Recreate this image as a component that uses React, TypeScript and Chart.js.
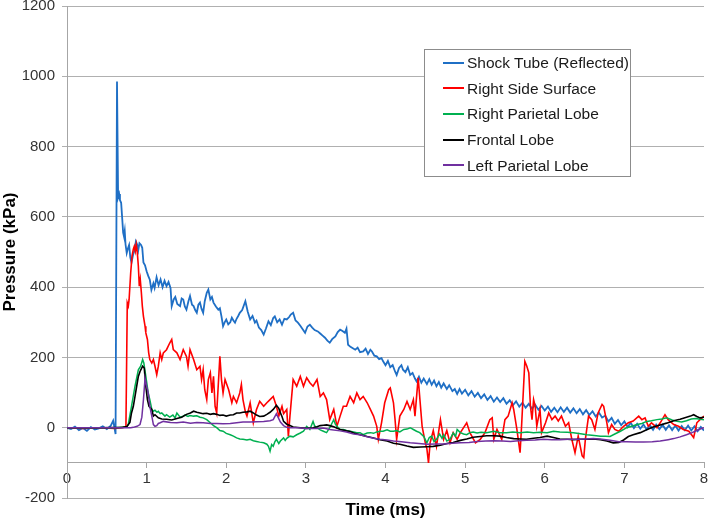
import React, { useEffect, useRef } from "react";
import { Chart, registerables } from "chart.js";

Chart.register(...registerables);

const FONT = "'Liberation Sans', Arial, Helvetica, sans-serif";

const seriesNames = [
  "Shock Tube (Reflected)",
  "Right Side Surface",
  "Right Parietal Lobe",
  "Frontal Lobe",
  "Left Parietal Lobe",
];
const seriesColors = ["#1f6fc5", "#ff0000", "#00b050", "#000000", "#7030a0"];

const xTicks = [0, 1, 2, 3, 4, 5, 6, 7, 8];
const yTicks = [-200, 0, 200, 400, 600, 800, 1000, 1200];

// Shock Tube (Reflected)
const shockT = [0, 0.05, 0.1, 0.15, 0.2, 0.25, 0.3, 0.35, 0.4, 0.45, 0.5, 0.55, 0.58, 0.61, 0.628, 0.642, 0.655, 0.665, 0.68, 0.695, 0.705, 0.715, 0.725, 0.735, 0.75, 0.765, 0.78, 0.795, 0.81, 0.83, 0.85, 0.865, 0.88, 0.895, 0.91, 0.93, 0.945, 0.96, 0.98, 1.0, 1.02, 1.04, 1.06, 1.085, 1.1, 1.125, 1.15, 1.175, 1.2, 1.225, 1.25, 1.275, 1.3, 1.315, 1.34, 1.36, 1.385, 1.42, 1.44, 1.46, 1.48, 1.5, 1.525, 1.545, 1.57, 1.59, 1.61, 1.63, 1.65, 1.67, 1.69, 1.71, 1.73, 1.755, 1.775, 1.8, 1.82, 1.84, 1.87, 1.9, 1.92, 1.94, 1.96, 1.98, 2.0, 2.025, 2.05, 2.07, 2.09, 2.11, 2.13, 2.15, 2.17, 2.2, 2.24, 2.27, 2.3, 2.33, 2.36, 2.38, 2.41, 2.44, 2.47, 2.5, 2.53, 2.56, 2.59, 2.61, 2.64, 2.67, 2.7, 2.73, 2.76, 2.79, 2.81, 2.84, 2.87, 2.9, 2.93, 2.96, 2.99, 3.02, 3.05, 3.08, 3.11, 3.15, 3.18, 3.21, 3.24, 3.27, 3.3, 3.33, 3.37, 3.4, 3.43, 3.46, 3.49, 3.51, 3.53, 3.56, 3.59, 3.62, 3.65, 3.68, 3.72, 3.75, 3.78, 3.81, 3.83, 3.86, 3.89, 3.92, 3.95, 3.97, 4.0, 4.03, 4.06, 4.09, 4.12, 4.14, 4.17, 4.2, 4.22, 4.25, 4.28, 4.31, 4.34, 4.37, 4.39, 4.42, 4.45, 4.48, 4.52, 4.55, 4.58, 4.61, 4.64, 4.67, 4.7, 4.73, 4.77, 4.8, 4.84, 4.87, 4.9, 4.93, 4.96, 5.0, 5.04, 5.08, 5.12, 5.16, 5.2, 5.24, 5.28, 5.32, 5.36, 5.4, 5.44, 5.48, 5.52, 5.56, 5.6, 5.64, 5.68, 5.72, 5.76, 5.8, 5.84, 5.88, 5.92, 5.96, 6.0, 6.04, 6.08, 6.12, 6.16, 6.2, 6.24, 6.28, 6.32, 6.36, 6.4, 6.44, 6.48, 6.52, 6.56, 6.6, 6.64, 6.68, 6.72, 6.76, 6.8, 6.84, 6.88, 6.92, 6.96, 7.0, 7.04, 7.08, 7.12, 7.16, 7.2, 7.24, 7.28, 7.32, 7.36, 7.4, 7.44, 7.48, 7.52, 7.56, 7.6, 7.64, 7.68, 7.72, 7.76, 7.8, 7.84, 7.88, 7.92, 7.96, 8.0];
const shockV = [0, -4, 3, -7, -1, -9, 2, -5, -2, 4, -4, 6, 20, -18, 985, 655, 665, 648, 640, 590, 555, 545, 560, 522, 497, 510, 520, 485, 470, 492, 506, 530, 522, 505, 525, 520, 512, 470, 462, 445, 432, 421, 392, 411, 398, 428, 405, 422, 400, 418, 403, 415, 398, 346, 365, 372, 352, 346, 368, 365, 345, 336, 360, 375, 350, 346, 335, 327, 350, 356, 338, 327, 360, 384, 393, 365, 372, 356, 345, 336, 340, 317, 289, 300, 308, 294, 300, 313, 305, 299, 310, 318, 327, 335, 360, 330, 308, 318, 299, 305, 285, 278, 265, 283, 303, 292, 312, 317, 300, 308, 293, 310, 308, 315, 322, 327, 305, 299, 290, 280, 270, 288, 293, 285, 278, 274, 268, 262, 256, 248, 242, 252, 260, 272, 279, 275, 270, 282, 236, 230, 226, 222, 228, 215, 217, 225, 210, 222, 217, 205, 203, 195, 198,
  189, 178, 190, 172, 178, 160, 150, 170, 178, 165, 158, 172, 150, 156, 140, 132, 145, 128, 140, 124, 138, 122, 134, 118, 130, 114, 126, 110, 121, 104, 110, 96, 110, 97, 108,
  92, 104, 88, 99, 84, 95, 79, 90, 74, 86, 73, 84, 68, 78, 64, 75, 60, 71, 57, 68, 54, 65, 51, 62, 49, 60, 45, 57, 44, 58, 45, 57, 43, 55, 41, 53, 38, 50, 36, 47, 32, 43, 29, 34, 18, 28, 11, 22, 7, 18, 2, 14, -1, 11, -3, 9, -5, 7, -6, 9, -4, 8, -6, 7, -7, 6, -8, 5, -7, 6, -8, 4, -10, 2, -8];

// Right Side Surface
const surfaceT = [0, 0.2, 0.4, 0.6, 0.74, 0.757, 0.77, 0.78, 0.8, 0.817, 0.833, 0.845, 0.858, 0.87, 0.883, 0.896, 0.908, 0.92, 0.934, 0.946, 0.96, 0.98, 0.99, 1.01, 1.026, 1.04, 1.065, 1.085, 1.105, 1.127, 1.147, 1.17, 1.19, 1.21, 1.25, 1.29, 1.315, 1.335, 1.38, 1.42, 1.46, 1.5, 1.52, 1.545, 1.59, 1.63, 1.67, 1.69, 1.71, 1.73, 1.755, 1.775, 1.8, 1.82, 1.84, 1.86, 1.88, 1.92, 1.94, 1.96, 1.985, 2.03, 2.07, 2.09, 2.13, 2.17, 2.19, 2.21, 2.24, 2.26, 2.3, 2.34, 2.38, 2.42, 2.47, 2.51, 2.55, 2.59, 2.63, 2.66, 2.7, 2.72, 2.76, 2.78, 2.8, 2.84, 2.885, 2.93, 2.97, 3.01, 3.05, 3.09, 3.14, 3.18, 3.22, 3.26, 3.3, 3.35, 3.39, 3.43, 3.47, 3.51, 3.555, 3.6, 3.64, 3.68, 3.72, 3.77, 3.81, 3.85, 3.89, 3.91, 3.95, 3.99, 4.04, 4.06, 4.1, 4.12, 4.14, 4.18, 4.23, 4.27, 4.31, 4.35, 4.37, 4.41, 4.46, 4.5, 4.52, 4.54, 4.56, 4.6, 4.64, 4.69, 4.73, 4.77, 4.81, 4.85, 4.9, 4.94, 5.02, 5.06, 5.13, 5.19, 5.25, 5.31, 5.34, 5.36, 5.4, 5.46, 5.5, 5.54, 5.59, 5.61, 5.65, 5.69, 5.71, 5.75, 5.775, 5.8, 5.82, 5.84, 5.86, 5.88, 5.9, 5.94, 5.96, 6.01, 6.05, 6.09, 6.13, 6.17, 6.21, 6.26, 6.3, 6.34, 6.38, 6.42, 6.47, 6.49, 6.51, 6.55, 6.59, 6.63, 6.67, 6.72, 6.74, 6.78, 6.8, 6.84, 6.88, 6.93, 6.99, 7.05, 7.11, 7.18, 7.22, 7.26, 7.3, 7.34, 7.41, 7.45, 7.51, 7.55, 7.62, 7.68, 7.74, 7.81, 7.87, 7.91, 7.95, 8.0];
const surfaceV = [0, -2, 0, -2, 2, 355, 346, 365, 441, 489, 508, 516, 502, 521, 498, 460, 403, 422, 384, 346, 317, 289, 270, 251, 213, 194, 184, 194, 175, 151, 175, 213, 194, 213, 222, 241, 251, 222, 213, 194, 222, 203, 175, 222, 194, 165, 175, 137, 165, 108, 80, 137, 156, 99, 146, 61, 42, 203, 137, 99, 137, 108, 71, 89, 71, 99, 123, 80, 45, 33, 71, 14, 52, 75, 61, 71, 80, 89, 61, 33, 61, 40, 52, -25, 33, 137, 118, 146, 118, 142, 128, 118, 137, 89, 99, 80, 23, 52, 4, 33, 61, 61, 89, 71, 99, 80, 89, 71, 52, 33, 4, -33, 14, 71, 108, 113, 71, 23, -33, 33, 52, 75, 52, 80, 33, 142, 4, -43, -60, -100, -43, -8, -53, 23, -33, -8, -43, -14, -33, -14, 14, -14, -43, -33, -14, 23, 28, -33, -5, -33, 23, 33, 71, 52, -5, -71, 9, 189, 175, 156, 61, 23, 80, 61, 4, 52, -14, 14, 42, 23, 33, 19, 33, 4, 14, -33, -71, -24, -80, -85, -33, 33, 23, -5, 42, 66, 61, 14, -14, 9, -5, -10, 4, 14, 19, 33, 23, 28, 4, 14, 0, 14, 37, 23, 9, 4, -5, -10, -28, 14, 23, 33];

// Right Parietal Lobe
const rightLobeT = [0, 0.3, 0.6, 0.75, 0.77, 0.81, 0.854, 0.896, 0.925, 0.95, 0.965, 0.99, 1.02, 1.04, 1.065, 1.085, 1.105, 1.13, 1.147, 1.17, 1.19, 1.23, 1.25, 1.29, 1.33, 1.357, 1.38, 1.42, 1.46, 1.48, 1.52, 1.545, 1.59, 1.63, 1.67, 1.71, 1.755, 1.8, 1.84, 1.88, 1.92, 1.96, 2.0, 2.05, 2.09, 2.13, 2.17, 2.21, 2.26, 2.3, 2.34, 2.38, 2.42, 2.47, 2.51, 2.53, 2.55, 2.57, 2.59, 2.61, 2.63, 2.66, 2.68, 2.72, 2.74, 2.76, 2.8, 2.84, 2.885, 2.93, 2.97, 3.01, 3.05, 3.09, 3.11, 3.14, 3.18, 3.22, 3.26, 3.3, 3.35, 3.37, 3.39, 3.43, 3.47, 3.51, 3.555, 3.6, 3.64, 3.68, 3.72, 3.77, 3.81, 3.85, 3.89, 3.93, 3.97, 4.02, 4.06, 4.1, 4.14, 4.18, 4.23, 4.27, 4.31, 4.35, 4.39, 4.43, 4.48, 4.52, 4.55, 4.58, 4.61, 4.64, 4.68, 4.71, 4.73, 4.77, 4.81, 4.85, 4.88, 4.9, 4.94, 4.98, 5.02, 5.06, 5.1, 5.15, 5.2, 5.27, 5.36, 5.44, 5.52, 5.6, 5.69, 5.78, 5.86, 5.94, 6.03, 6.11, 6.19, 6.28, 6.36, 6.45, 6.53, 6.62, 6.7, 6.76, 6.82, 6.88, 6.95, 7.03, 7.09, 7.16, 7.22, 7.28, 7.34, 7.41, 7.47, 7.53, 7.6, 7.66, 7.72, 7.78, 7.84, 7.9, 7.95, 8.0];
const rightLobeV = [0, 0, 0, 2, 10, 61, 118, 165, 175, 194, 184, 146, 99, 80, 52, 47, 50, 44, 47, 40, 42, 33, 37, 30, 36, 28, 42, 30, 33, 36, 32, 35, 33, 34, 30, 28, 23, 14, 6, 0, -8, -10, -16, -20, -24, -29, -32, -33, -35, -33, -37, -39, -41, -43, -47, -53, -67, -48, -53, -40, -33, -45, -38, -29, -36, -30, -24, -26, -20, -15, -10, 4, -5, 18, 5, 0, -6, -10, -14, 0, 23, 10, 4, -5, -5, -8, -10, -12, -14, -14, -20, -15, -14, -16, -12, -10, -10, -6, -10, -10, -8, -12, -5, -4, 0, -5, -10, -14, -25, -43, -28, -24, -40, -33, -18, -30, -20, -38, -33, -15, -25, -5, -14, -18, -20, -14, -12, -15, -13, -14, -10, -14, -14, -12, -14, -12, -14, -13, -14, -10, -12, -13, -14, -17, -20, -22, -24, -24, -25, -18, -10, 0, 4, 9, 12, 18, 20, 23, 25, 28, 22, 18, 16, 20, 25, 26, 24, 23];

// Frontal Lobe
const frontalT = [0, 0.4, 0.7, 0.75, 0.79, 0.81, 0.833, 0.854, 0.875, 0.896, 0.917, 0.95, 0.97, 0.99, 1.01, 1.03, 1.065, 1.085, 1.105, 1.147, 1.19, 1.25, 1.315, 1.38, 1.44, 1.5, 1.55, 1.59, 1.63, 1.67, 1.71, 1.755, 1.8, 1.84, 1.88, 1.92, 1.96, 2.0, 2.05, 2.09, 2.13, 2.17, 2.21, 2.26, 2.3, 2.34, 2.38, 2.42, 2.47, 2.51, 2.55, 2.59, 2.63, 2.66, 2.68, 2.7, 2.72, 2.76, 2.8, 2.84, 2.93, 3.01, 3.09, 3.14, 3.18, 3.22, 3.26, 3.3, 3.35, 3.43, 3.51, 3.555, 3.6, 3.68, 3.77, 3.85, 3.93, 4.02, 4.1, 4.18, 4.27, 4.35, 4.44, 4.52, 4.6, 4.69, 4.77, 4.85, 4.94, 5.02, 5.1, 5.19, 5.27, 5.36, 5.44, 5.52, 5.61, 5.69, 5.77, 5.86, 5.94, 6.03, 6.11, 6.19, 6.28, 6.36, 6.45, 6.53, 6.61, 6.7, 6.78, 6.86, 6.93, 6.99, 7.05, 7.11, 7.2, 7.28, 7.36, 7.45, 7.53, 7.62, 7.7, 7.78, 7.83, 7.87, 7.91, 7.95, 8.0];
const frontalV = [0, 0, 1, 3, 15, 42, 61, 89, 118, 146, 160, 175, 170, 118, 80, 61, 52, 33, 37, 28, 25, 24, 22, 26, 30, 38, 42, 47, 44, 42, 40, 41, 38, 40, 38, 35, 36, 33, 36, 37, 42, 42, 44, 45, 47, 42, 36, 32, 33, 38, 44, 52, 64, 55, 42, 32, 18, 10, 6, 2, 0, -2, 0, 3, 6, 7, 8, 6, 3, -5, -9, -11, -15, -20, -25, -29, -34, -38, -44, -47, -52, -56, -55, -54, -53, -50, -45, -42, -36, -32, -27, -25, -23, -23, -24, -28, -31, -32, -33, -30, -28, -24, -28, -32, -33, -34, -33, -33, -32, -34, -38, -43, -42, -35, -25, -20, -14, -6, 2, 8, 13, 20, 24, 30, 33, 37, 32, 28, 30];

// Left Parietal Lobe
const leftLobeT = [0, 0.4, 0.8, 0.833, 0.88, 0.917, 0.94, 0.96, 0.98, 1.0, 1.02, 1.04, 1.065, 1.085, 1.105, 1.127, 1.147, 1.17, 1.21, 1.3, 1.38, 1.46, 1.55, 1.63, 1.71, 1.8, 1.88, 1.96, 2.05, 2.13, 2.21, 2.3, 2.38, 2.47, 2.55, 2.59, 2.63, 2.65, 2.68, 2.72, 2.76, 2.8, 2.9, 3.01, 3.14, 3.22, 3.3, 3.43, 3.51, 3.6, 3.68, 3.77, 3.85, 3.93, 4.02, 4.1, 4.2, 4.31, 4.42, 4.52, 4.62, 4.73, 4.84, 4.94, 5.05, 5.15, 5.26, 5.36, 5.47, 5.57, 5.67, 5.77, 5.88, 5.98, 6.09, 6.19, 6.3, 6.4, 6.51, 6.61, 6.72, 6.82, 6.93, 7.03, 7.14, 7.24, 7.35, 7.45, 7.55, 7.62, 7.7, 7.78, 7.85, 7.91, 7.96, 8.0];
const leftLobeV = [0, 0, 0, 1, 4, 9, 30, 80, 140, 118, 99, 61, 33, 9, 4, 6, 12, 14, 18, 15, 14, 16, 13, 15, 14, 12, 12, 11, 12, 14, 16, 16, 17, 18, 20, 23, 40, 30, 16, 6, 1, 0, 0, -2, -2, -1, -5, -9, -12, -18, -20, -26, -30, -33, -35, -38, -40, -43, -45, -47, -46, -46, -44, -43, -42, -39, -38, -37, -38, -39, -37, -36, -35, -33, -34, -34, -33, -33, -32, -31, -33, -36, -40, -40, -41, -41, -40, -38, -34, -31, -26, -20, -14, -8, -3, 0];

const seriesT = [shockT, surfaceT, rightLobeT, frontalT, leftLobeT];
const seriesV = [shockV, surfaceV, rightLobeV, frontalV, leftLobeV];
const seriesWidths = [1.8, 1.6, 1.5, 1.6, 1.5];

const xTitle = "Time (ms)";
const yTitle = "Pressure (kPa)";

const xTitlePlugin = {
  id: "xTitle",
  afterDraw(chart: any) {
    const { ctx, chartArea } = chart;
    ctx.save();
    ctx.font = `bold 17px ${FONT}`;
    ctx.fillStyle = "#000";
    ctx.textAlign = "center";
    ctx.textBaseline = "middle";
    ctx.fillText(xTitle, (chartArea.left + chartArea.right) / 2, 510);
    ctx.restore();
  },
};

export default function App() {
  const ref = useRef<HTMLCanvasElement | null>(null);

  useEffect(() => {
    if (!ref.current) return;
    const datasets = seriesNames.map((name, i) => ({
      label: name,
      data: seriesT[i].map((t, j) => ({ x: t, y: seriesV[i][j] })),
      borderColor: seriesColors[i],
      backgroundColor: seriesColors[i],
      borderWidth: seriesWidths[i],
      pointRadius: 0,
      tension: 0,
      fill: false,
      order: seriesNames.length - i,
    }));
    const chart = new Chart(ref.current, {
      type: "line",
      data: { datasets },
      options: {
        animation: false,
        responsive: false,
        events: [],
        layout: { padding: { top: 6, right: 5, bottom: 22, left: 0 } },
        plugins: {
          legend: { display: false },
          tooltip: { enabled: false },
        },
        scales: {
          x: {
            type: "linear",
            min: 0,
            max: 8,
            position: { y: -100 } as any,
            afterBuildTicks: (s: any) => {
              s.ticks = xTicks.map((v) => ({ value: v }));
            },
            afterFit: (s: any) => {
              s.height = 0;
              s.paddingLeft = 0;
              s.paddingRight = 0;
            },
            ticks: {
              color: "#333",
              font: { family: FONT, size: 15 },
              padding: 2,
              maxRotation: 0,
              callback: (v: any) => String(v),
            },
            grid: {
              display: true,
              drawOnChartArea: false,
              drawTicks: true,
              tickLength: 5,
              color: "#a6a6a6",
            },
            border: { display: true, color: "#a6a6a6", width: 1 },
          },
          y: {
            type: "linear",
            min: -200,
            max: 1200,
            afterBuildTicks: (s: any) => {
              s.ticks = yTicks.map((v) => ({ value: v }));
            },
            afterFit: (s: any) => {
              s.width = 67;
              s.paddingTop = 0;
              s.paddingBottom = 0;
            },
            ticks: {
              color: "#333",
              font: { family: FONT, size: 15 },
              padding: 7,
              callback: (v: any) => String(v),
            },
            grid: {
              color: "#b0b0b0",
              tickLength: 5,
              lineWidth: 1,
            },
            border: { display: true, color: "#a6a6a6", width: 1 },
            title: {
              display: true,
              text: yTitle,
              color: "#000",
              font: { family: FONT, size: 17, weight: "bold" },
              padding: { top: 0, bottom: 0 },
            },
          },
        },
      },
      plugins: [xTitlePlugin],
    });
    return () => chart.destroy();
  }, []);

  return (
    <div
      style={{
        position: "absolute",
        left: 0,
        top: 0,
        width: 709,
        height: 520,
        background: "#fff",
        fontFamily: FONT,
      }}
    >
      <canvas ref={ref} width={709} height={520} style={{ width: 709, height: 520, display: "block" }} />
      <div
        style={{
          position: "absolute",
          left: 424,
          top: 49,
          width: 207,
          height: 128,
          boxSizing: "border-box",
          border: "1px solid #8c8c8c",
          background: "#fff",
        }}
      >
        {seriesNames.map((name, i) => (
          <div
            key={name}
            style={{
              position: "absolute",
              left: 0,
              top: i * 25.6,
              height: 25.6,
              width: "100%",
              display: "flex",
              alignItems: "center",
            }}
          >
            <span
              style={{
                display: "inline-block",
                marginLeft: 18,
                width: 21,
                height: 2,
                background: seriesColors[i],
              }}
            />
            <span style={{ marginLeft: 3, fontSize: 15.5, color: "#1a1a1a", whiteSpace: "nowrap", lineHeight: "17px" }}>
              {name}
            </span>
          </div>
        ))}
      </div>
    </div>
  );
}
